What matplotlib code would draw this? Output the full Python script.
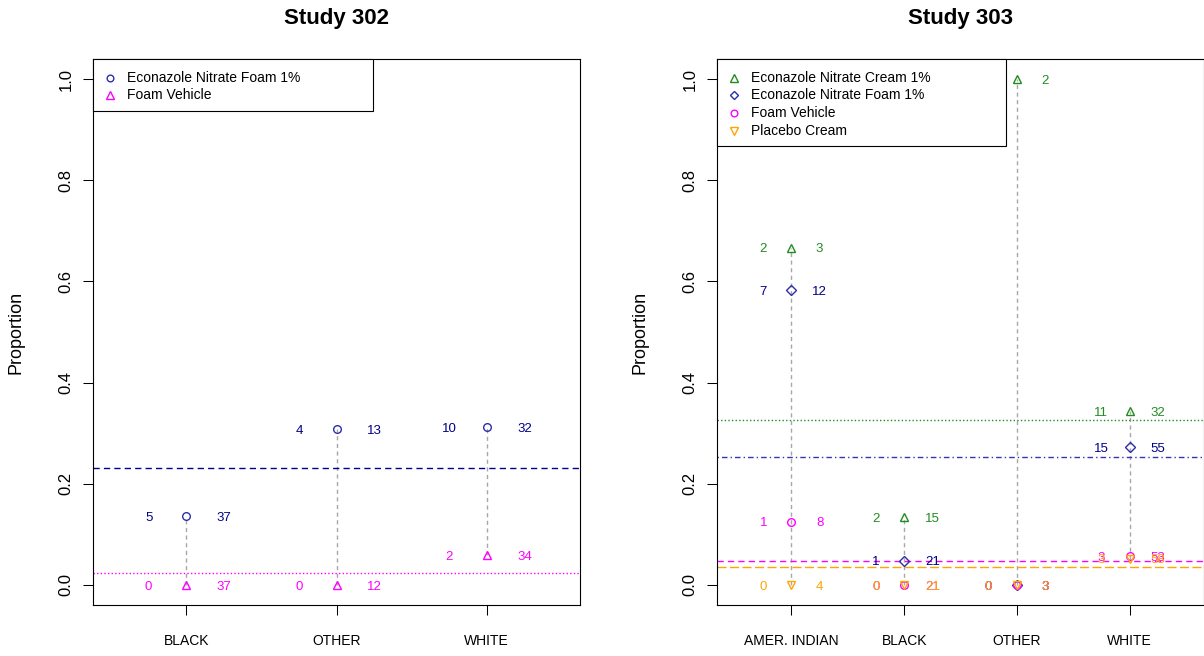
import matplotlib
matplotlib.use("Agg")
import matplotlib.pyplot as plt
from matplotlib.patches import Rectangle
from matplotlib.transforms import offset_copy
import numpy as np

plt.rcParams['font.family'] = ['Liberation Sans', 'DejaVu Sans']

# ---------------- data ----------------
s302_categories = ["BLACK", "OTHER", "WHITE"]
s302_foam_events = [5, 4, 10]
s302_foam_n = [37, 13, 32]
s302_vehicle_events = [0, 0, 2]
s302_vehicle_n = [37, 12, 34]

s303_categories = ["AMER. INDIAN", "BLACK", "OTHER", "WHITE"]
s303_cream_events = [2, 2, 2, 11]
s303_cream_n = [3, 15, 2, 32]
s303_foam_events = [7, 1, 0, 15]
s303_foam_n = [12, 21, 3, 55]
s303_vehicle_events = [1, 0, 0, 3]
s303_vehicle_n = [8, 21, 3, 53]
s303_placebo_events = [0, 0, 0, 3]
s303_placebo_n = [4, 21, 3, 58]

# ---------------- styles ----------------
BLUE_T = '#00008B'
BLUE_M = '#2E2EA8'
MAG = '#FF00FF'
GREEN = '#228B22'
ORANGE = '#FFA500'
DOT = (0, (1, 1.6))
DASH = (0, (4.5, 3))
DOTDASH = (0, (1, 2.2, 4, 2.2))
LONGDASH = (0, (6.5, 2.5))
NUM_FS = 9.5

series302 = [
    dict(name="Econazole Nitrate Foam 1%", ev=s302_foam_events, n=s302_foam_n,
         marker='o', ms=5.5, mc=BLUE_M, tc=BLUE_T, lc=BLUE_T, ls=DASH),
    dict(name="Foam Vehicle", ev=s302_vehicle_events, n=s302_vehicle_n,
         marker='^', ms=5.8, mc=MAG, tc=MAG, lc=MAG, ls=DOT),
]
series303 = [
    dict(name="Econazole Nitrate Cream 1%", ev=s303_cream_events, n=s303_cream_n,
         marker='^', ms=5.8, mc=GREEN, tc=GREEN, lc=GREEN, ls=DOT),
    dict(name="Econazole Nitrate Foam 1%", ev=s303_foam_events, n=s303_foam_n,
         marker='D', ms=4.8, mc=BLUE_M, tc=BLUE_T, lc='#3434B4', ls=DOTDASH),
    dict(name="Foam Vehicle", ev=s303_vehicle_events, n=s303_vehicle_n,
         marker='o', ms=5.5, mc=MAG, tc=MAG, lc=MAG, ls=DASH),
    dict(name="Placebo Cream", ev=s303_placebo_events, n=s303_placebo_n,
         marker='v', ms=5.8, mc=ORANGE, tc=ORANGE, lc=ORANGE, ls=LONGDASH),
]

W, H = 1204, 656
fig = plt.figure(figsize=(W / 100, H / 100), dpi=100)


def px_axes(x0, y0, x1, y1):
    return fig.add_axes([x0 / W, 1 - y1 / H, (x1 - x0) / W, (y1 - y0) / H])


def panel(ax, cats, series, title, leg_w_px, leg_h_px):
    x = np.arange(1, len(cats) + 1)
    props = [np.array(s['ev']) / np.array(s['n']) for s in series]
    allp = np.vstack(props)
    ax.vlines(x, allp.min(axis=0), allp.max(axis=0), colors='#A8A8A8',
              linestyles=(0, (3, 2.5)), lw=1.0, zorder=1)
    for s in series:
        overall = sum(s['ev']) / sum(s['n'])
        ax.axhline(overall, color=s['lc'], ls=s['ls'], lw=1.0, zorder=2)
    num_tr = offset_copy(ax.transData, fig=fig, y=-0.36 * NUM_FS, units='points')
    for s, p in zip(series, props):
        ax.plot(x, p, ls='none', marker=s['marker'], ms=s['ms'], mfc='none',
                mec=s['mc'], mew=1.0, zorder=3)
        for xi, pi, ei, ni in zip(x, p, s['ev'], s['n']):
            ax.text(xi - 0.25, pi, str(ei), color=s['tc'], fontsize=NUM_FS,
                    ha='center', va='baseline', transform=num_tr, zorder=4)
            ax.text(xi + 0.25, pi, str(ni), color=s['tc'], fontsize=NUM_FS,
                    ha='center', va='baseline', transform=num_tr, zorder=4)

    ax.set_xlim(0.5 - 0.04 * len(cats), len(cats) + 0.5 + 0.04 * len(cats))
    ax.set_ylim(-0.04, 1.04)
    ax.set_xticks(x)
    ax.set_xticklabels(cats)
    yt = [0.0, 0.2, 0.4, 0.6, 0.8, 1.0]
    ax.set_yticks(yt)
    ax.set_yticklabels(["%.1f" % v for v in yt])
    ax.tick_params(axis='x', length=7, width=0.75, pad=14, labelsize=10)
    ax.tick_params(axis='y', length=7, width=0.75, pad=7, labelsize=12,
                   labelrotation=90)
    for lbl in ax.get_yticklabels():
        lbl.set_va('center')
    for sp in ax.spines.values():
        sp.set_linewidth(0.8)
        sp.set_color('black')
    ax.set_title(title, fontsize=16, fontweight='bold', pad=25.5)
    ax.text(-0.158, 0.5, 'Proportion', rotation=90, transform=ax.transAxes,
            ha='center', va='center', fontsize=13)

    # legend box (R style, top-left)
    bbox = ax.get_position()
    ax_w_px = bbox.width * W
    ax_h_px = bbox.height * H
    lw_f = leg_w_px / ax_w_px
    lh_f = leg_h_px / ax_h_px
    ax.add_patch(Rectangle((0, 1 - lh_f), lw_f, lh_f, transform=ax.transAxes,
                           facecolor='white', edgecolor='black', lw=0.8,
                           zorder=10, clip_on=False))
    for i, s in enumerate(series):
        yy = 1 - (18.5 + 17.7 * i) / ax_h_px
        ax.plot([17 / ax_w_px], [yy], transform=ax.transAxes, ls='none',
                marker=s['marker'], ms=s['ms'] - 0.7, mfc='none', mec=s['mc'],
                mew=1.0, zorder=11, clip_on=False)
        ax.text(34 / ax_w_px, yy, s['name'], transform=ax.transAxes,
                fontsize=10, ha='left', va='center', zorder=11)


ax1 = px_axes(93, 59, 580, 605)
panel(ax1, s302_categories, series302, "Study 302", 280, 52)
ax2 = px_axes(717, 59, 1204, 605)
panel(ax2, s303_categories, series303, "Study 303", 289, 87)

fig.savefig("out.png", dpi=100)
